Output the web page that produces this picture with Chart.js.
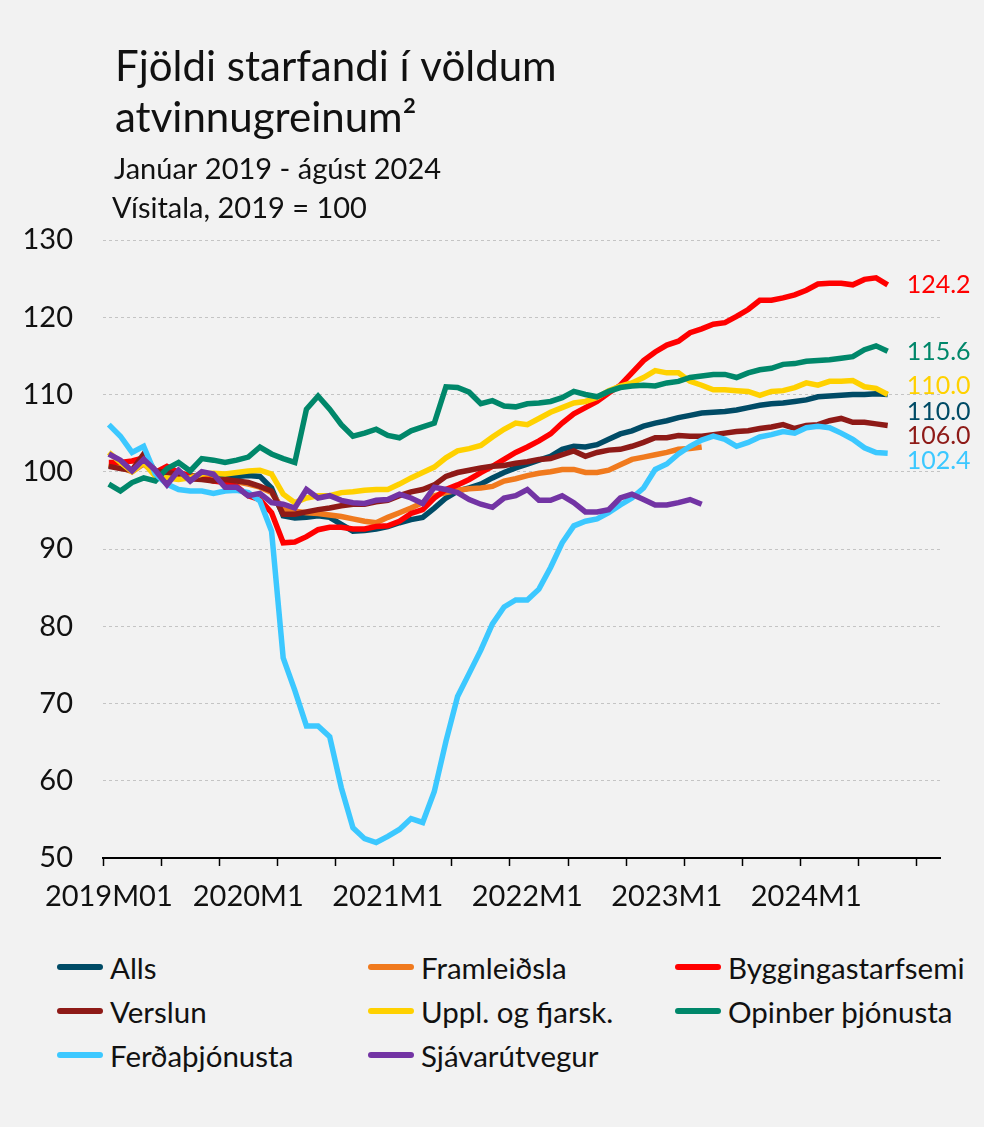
<!DOCTYPE html>
<html>
<head>
<meta charset="utf-8">
<script src="https://cdn.jsdelivr.net/npm/chart.js@4.4.1/dist/chart.umd.min.js"></script>
<style>
    html, body { margin: 0; padding: 0; background: #ffffff; }
    #wrap { position: relative; width: 984px; height: 1127px; background: #f2f2f2; overflow: hidden; }
    #chart { position: absolute; left: 0; top: 0; }
    .item { position: absolute; display: flex; align-items: center; font: 29.5px Lato, sans-serif; color: #111; white-space: nowrap; }
    .item span.sw { display: inline-block; width: 46px; height: 6px; border-radius: 3px; margin-right: 7px; }
</style>
</head>
<body>
<div id="wrap">
    <canvas id="chart" width="984" height="940"></canvas>
    <div id="legend"></div>
</div>
<script>
// Series names (legend order)
const seriesNames = ['Alls', 'Framleiðsla', 'Byggingastarfsemi', 'Verslun', 'Uppl. og fjarsk.', 'Opinber þjónusta', 'Ferðaþjónusta', 'Sjávarútvegur'];
const colors = ['#004b66', '#f07a1e', '#ff0000', '#8e1a17', '#ffd100', '#00876a', '#3cc8ff', '#7334a4'];

// x axis: Jan 2019 - Dec 2024, labels shown once a year
const years = [2019, 2020, 2021, 2022, 2023, 2024];
const tickLabels = ['2019M01', '2020M1', '2021M1', '2022M1', '2023M1', '2024M1'];
const categories = [];
years.forEach(y => { for (let m = 1; m <= 12; m++) categories.push(y + 'M' + m); });

// Index values, 2019 = 100 (Jan 2019 - Aug 2024)
const alls = [100.8, 100.5, 100.2, 101.2, 99.9, 99.9, 99.8, 99.4, 99.6, 99.4, 99.3, 99.4, 99.5,
    99.4, 97.9, 94.3, 94.0, 94.1, 94.3, 94.1, 93.2, 92.3, 92.4, 92.6, 92.9,
    93.4, 93.8, 94.1, 95.3, 96.6, 97.5, 97.9, 98.4, 99.2, 99.9, 100.5, 101.0, 101.5, 102.0, 102.9, 103.3, 103.2, 103.5, 104.2, 104.9, 105.3, 105.9, 106.3, 106.6, 107.0,
    107.3, 107.6, 107.7, 107.8, 108.0, 108.3, 108.6, 108.8, 108.9, 109.1, 109.3, 109.7, 109.8, 109.9, 110.0, 110.0, 110.1, 110.0];
const framleidsla = [101.0, 100.6, 100.0, 101.0, 99.8, 100.0, 99.6, 99.3, 99.3, 98.9, 98.9, 98.7, 98.4, 98.0, 97.3,
    95.1, 94.9, 94.7, 94.6, 94.4, 94.2, 93.9, 93.6, 93.4, 94.1,
    94.7, 95.3, 96.0, 96.9, 97.3, 97.6, 97.8, 97.9, 98.1, 98.8, 99.1, 99.5, 99.8, 100.0, 100.3, 100.3, 99.9, 99.9, 100.2, 100.9, 101.6, 101.9, 102.2, 102.5, 102.9,
    103.0, 103.2];
const byggingar = [101.2, 101.2, 101.4, 101.8, 99.9, 100.7, 99.9, 99.5, 99.2, 98.8, 98.6, 98.1, 96.9, 96.4, 94.7, 90.8, 90.9, 91.6, 92.5, 92.8, 92.8,
    92.6, 92.6, 92.9,
    93.0, 93.6, 94.6, 95.1, 96.6, 97.7, 98.3, 99.0, 99.9, 100.7, 101.6, 102.5, 103.2, 104.0, 104.9, 106.3, 107.5, 108.3, 109.1, 110.2, 111.2, 112.8, 114.4, 115.5, 116.4, 116.9,
    118.0, 118.5, 119.1, 119.3, 120.1, 121.0, 122.2, 122.2, 122.5, 122.9, 123.5, 124.3, 124.4, 124.4, 124.2, 124.9, 125.1, 124.2];
const verslun = [100.7, 100.4, 100.2, 102.3, 100.1, 99.9, 99.7, 99.1, 99.0, 98.8, 99.0, 98.8, 98.6, 98.1, 97.5,
    94.5, 94.5, 94.8, 95.1, 95.3, 95.6, 95.8, 95.8, 96.1,
    96.3, 96.9, 97.4, 97.7, 98.3, 99.4, 99.9, 100.2, 100.5, 100.7, 100.8, 101.1, 101.3, 101.6, 101.7, 102.2, 102.7, 102.0, 102.5, 102.8, 102.9, 103.3, 103.8, 104.4, 104.4, 104.7,
    104.6, 104.6, 104.8, 105.0, 105.2, 105.3, 105.6, 105.8, 106.1, 105.6, 106.0, 106.1, 106.6, 106.9, 106.4, 106.4, 106.2, 106.0];
const upplysingar = [102.5, 101.2, 100.0, 101.2, 99.4, 99.2, 99.0, 99.2, 99.7, 99.8, 99.7, 99.9, 100.1, 100.2, 99.7,
    97.1, 96.0, 96.6, 96.9, 96.9, 97.3, 97.4, 97.6, 97.7,
    97.7, 98.4, 99.2, 99.9, 100.6, 101.8, 102.7, 103.0, 103.4, 104.5, 105.5, 106.3, 106.1, 106.9, 107.7, 108.3, 108.9, 109.1, 109.6, 110.5, 111.1, 111.5, 112.2, 113.1, 112.8, 112.8,
    111.7, 111.2, 110.6, 110.6, 110.5, 110.4, 109.9, 110.4, 110.5, 110.9, 111.5, 111.2, 111.7, 111.7, 111.8, 111.0, 110.8, 110.0];
const opinber = [98.4, 97.5, 98.6, 99.2, 98.8, 100.4, 101.2, 100.1, 101.7, 101.5, 101.2, 101.5, 101.9, 103.2, 102.3, 101.7, 101.2,
    108.1, 109.8, 108.1, 106.1, 104.6, 105.0, 105.5, 104.7,
    104.4, 105.3, 105.8, 106.3, 111.0, 110.9, 110.3, 108.8, 109.2, 108.5, 108.4, 108.8, 108.9, 109.1, 109.6, 110.4, 110.0, 109.7, 110.4, 110.9, 111.1, 111.2, 111.1, 111.5, 111.7,
    112.2, 112.4, 112.6, 112.6, 112.2, 112.8, 113.2, 113.4, 113.9, 114.0, 114.3, 114.4, 114.5, 114.7, 114.9, 115.8, 116.3, 115.6];
const ferda = [106.1, 104.6, 102.5, 103.3, 99.7, 98.4, 97.7, 97.5, 97.5, 97.2, 97.5, 97.6, 97.3, 96.2, 92.3,
    75.9, 71.7, 67.1, 67.1, 65.7, 59.1, 53.9, 52.5, 52.0, 52.8, 53.7, 55.1, 54.6, 58.6, 65.1,
    70.9, 73.9, 76.9, 80.3, 82.5, 83.4, 83.4, 84.8, 87.6, 90.8, 93.0, 93.6, 93.9, 94.7, 95.7, 96.6, 97.9,
    100.3, 101.0, 102.3, 103.3, 104.1, 104.6, 104.2, 103.3, 103.8, 104.5, 104.8, 105.2, 105.0, 105.7, 105.9, 105.7, 105.0, 104.2, 103.1, 102.5, 102.4];
const sjavar = [102.3, 101.5, 100.1, 101.6, 100.2, 98.3, 100.2, 98.8, 100.0, 99.7, 98.0, 98.0, 96.9, 97.2, 96.0,
    95.8, 95.3, 97.7, 96.6, 96.9, 96.3, 96.0, 95.9, 96.3, 96.4,
    97.1, 96.6, 95.9, 98.0, 97.7, 97.3, 96.4, 95.8, 95.4, 96.6, 96.9, 97.7, 96.3, 96.3, 96.9, 96.0, 94.8, 94.8, 95.1, 96.6, 97.1, 96.4, 95.7, 95.7, 96.0,
    96.4, 95.8];

const seriesData = [alls, framleidsla, byggingar, verslun, upplysingar, opinber, ferda, sjavar];

// where the end-of-line value labels sit (value units), null = no label
const endLabelAt = [107.7, null, 124.2, 104.6, 111.1, 115.5, 101.4, null];

// Titles drawn on the canvas
const titlePlugin = {
    id: 'titles',
    afterDraw(chart) {
        const ctx = chart.ctx;
        ctx.save();
        ctx.fillStyle = '#111';
        ctx.textBaseline = 'alphabetic';
        ctx.textAlign = 'left';
        ctx.font = '42px Lato, sans-serif';
        ctx.fillText('Fjöldi starfandi í völdum', 115, 81);
        ctx.fillText('atvinnugreinum²', 115, 132);
        ctx.font = '29px Lato, sans-serif';
        ctx.fillText('Janúar 2019 - ágúst 2024', 114, 179);
        ctx.fillText('Vísitala, 2019 = 100', 112, 218);
        ctx.restore();
    }
};

// Last value written at the end of each line
const endLabelPlugin = {
    id: 'endLabels',
    afterDatasetsDraw(chart) {
        const ctx = chart.ctx;
        const y = chart.scales.y;
        ctx.save();
        ctx.font = '25px Lato, sans-serif';
        ctx.textBaseline = 'middle';
        ctx.textAlign = 'left';
        seriesData.forEach((d, i) => {
            if (endLabelAt[i] === null) return;
            const meta = chart.getDatasetMeta(i);
            const last = meta.data[d.length - 1];
            ctx.fillStyle = colors[i];
            ctx.fillText(d[d.length - 1].toFixed(1), last.x + 19, y.getPixelForValue(endLabelAt[i]));
        });
        ctx.restore();
    }
};

const chart = new Chart(document.getElementById('chart').getContext('2d'), {
    type: 'line',
    data: {
        labels: categories,
        datasets: seriesData.map((d, i) => ({
            label: seriesNames[i],
            data: d,
            borderColor: colors[i],
            backgroundColor: colors[i],
            borderWidth: 5.5,
            pointRadius: 0,
            tension: 0,
            order: seriesData.length - i
        }))
    },
    options: {
        responsive: false,
        animation: false,
        devicePixelRatio: 1,
        layout: { padding: { left: 23, right: 44, top: 240, bottom: 22 } },
        plugins: {
            legend: { display: false },
            tooltip: { enabled: false }
        },
        scales: {
            x: {
                offset: true,
                afterFit(scale) { scale.height = 60; },
                grid: {
                    offset: true,
                    drawOnChartArea: false,
                    drawTicks: true,
                    tickLength: 8,
                    tickWidth: 1.5,
                    color: ctx => ctx.index % 5 === 0 ? '#000' : 'rgba(0,0,0,0)',
                    tickColor: ctx => ctx.index % 5 === 0 ? '#000' : 'rgba(0,0,0,0)'
                },
                border: { display: true, color: '#000', width: 2 },
                ticks: {
                    autoSkip: false,
                    maxRotation: 0,
                    minRotation: 0,
                    padding: 13,
                    color: '#111',
                    font: { family: 'Lato', size: 29 },
                    callback: (v, i) => i % 12 === 0 ? tickLabels[i / 12] : ''
                }
            },
            y: {
                min: 50,
                max: 130,
                afterFit(scale) { scale.width = 80; },
                grid: { color: '#c4c4c4', lineWidth: 1, drawTicks: false },
                border: { display: false, dash: [3, 3] },
                ticks: {
                    stepSize: 10,
                    padding: 30,
                    color: '#111',
                    font: { family: 'Lato', size: 29 }
                }
            }
        }
    },
    plugins: [titlePlugin, endLabelPlugin]
});

// HTML legend in three columns
const legendCols = [57, 368, 675];
const legendRows = [967, 1011, 1055];
const legendEl = document.getElementById('legend');
seriesNames.forEach((name, i) => {
    const div = document.createElement('div');
    div.className = 'item';
    div.style.left = legendCols[i % 3] + 'px';
    div.style.top = (legendRows[Math.floor(i / 3)] - 18) + 'px';
    div.style.height = '36px';
    div.innerHTML = `<span class="sw" style="background:${colors[i]}"></span>${name}`;
    legendEl.appendChild(div);
});
</script>
</body>
</html>
